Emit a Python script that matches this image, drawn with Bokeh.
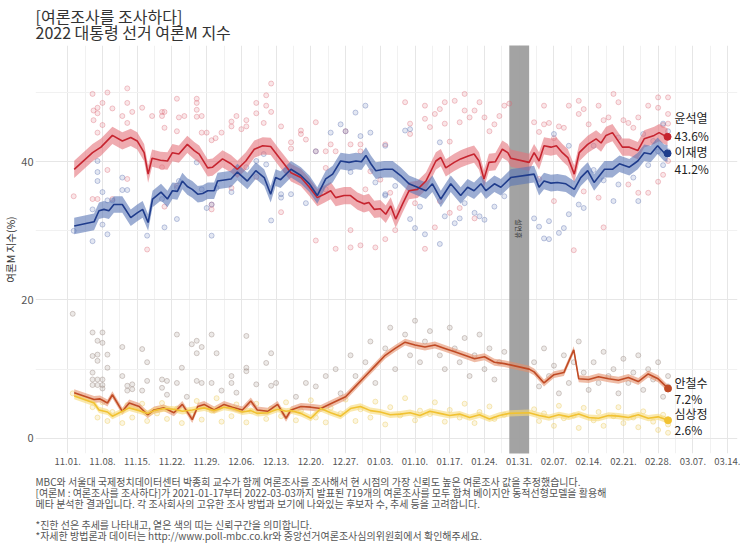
from bokeh.plotting import figure
from bokeh.models import FixedTicker, Title
from bokeh.core.properties import value
from bokeh.embed import file_html
from bokeh.resources import INLINE

FONT = "Noto Sans CJK KR"

# ---------------- data (x = days since 2021-11-01) ----------------
tick_labels = ["11.01.", "11.08.", "11.15.", "11.22.", "11.29.", "12.06.", "12.13.",
               "12.20.", "12.27.", "01.03.", "01.10.", "01.17.", "01.24.", "01.31.",
               "02.07.", "02.14.", "02.21.", "02.28.", "03.07.", "03.14."]

holiday_start, holiday_end = 89, 93  # 설 연휴 (01.29 - 02.02)
holiday_label = "설연휴"

yoon_day = [1.3, 5, 6.7, 9, 11, 12.7, 14, 15.4, 16.2, 17, 18.7, 20.1, 21.1, 22.4, 24.1, 25.5, 26.5,
            28.2, 29.2, 31.2, 32.9, 34.2, 35.9, 37.6, 39.3, 40.9, 42.6, 45, 47, 48.7, 50.3, 51.7, 53,
            54, 55.7, 57, 58.4, 59.7, 60.7, 61.8, 63, 64.1, 65.1, 66.1, 67.5, 68.8, 70.5, 72.2, 74.2,
            75.2, 76.2, 77.9, 79.2, 80.6, 81.9, 82.9, 83.9, 84.9, 86.2, 87.6, 88.7, 89.3, 93, 94, 95,
            96, 97.4, 98.5, 99.7, 100.8, 102.1, 103.1, 104.8, 106.5, 107.5, 108.5, 109.8, 111.8,
            113.2, 114.9, 116.2, 118.2, 119.2, 120.2, 120.9]
yoon_val = [38.9, 41.3, 42.1, 43.8, 43.0, 43.5, 43.0, 41.3, 38.2, 40.5, 40.2, 40.1, 41.3, 41.1, 42.5,
            41.6, 41.1, 39.1, 39.2, 40.4, 39.7, 38.9, 40.1, 41.8, 42.3, 42.2, 40.6, 38.4, 37.7, 36.3,
            34.8, 35.3, 35.8, 34.8, 35.1, 35.1, 34.3, 33.9, 34.1, 33.1, 33.2, 32.4, 33.6, 31.7, 33.9,
            35.8, 36.0, 37.2, 40.1, 40.6, 39.1, 39.9, 40.4, 40.8, 41.1, 40.1, 37.5, 39.9, 40.0, 41.8,
            41.3, 40.5, 39.9, 41.3, 40.1, 42.3, 42.1, 42.3, 41.3, 40.6, 38.2, 41.3, 42.5, 43.3, 42.7,
            43.8, 44.2, 42.1, 42.1, 41.6, 43.3, 43.8, 44.2, 43.8, 43.6]

lee_day = [1.3, 5.3, 6.3, 7.3, 8.3, 9.3, 11, 12.7, 14, 15.1, 16.2, 17.1, 18.8, 20.1, 21.1, 22.1, 23.1,
           24.1, 25.1, 26.2, 27.2, 28.2, 29.5, 30.2, 32.9, 34.2, 36.2, 37.9, 39.6, 40.9, 41.9, 42.9,
           45, 47, 48.7, 50.3, 52, 53.4, 55, 56.7, 58.1, 59.2, 60.1, 61.1, 62.1, 63.8, 65.5, 67.1,
           68.8, 70.5, 72.2, 73.5, 75.2, 77.2, 79.2, 80.6, 81.9, 83.3, 84.3, 86, 87.3, 89.3, 94, 95,
           96, 97.4, 98.7, 100.4, 102.1, 103.4, 104.8, 106.1, 108.2, 109.8, 111.2, 113.2, 114.9,
           116.2, 117.5, 118.9, 120.2, 120.9]
lee_val = [30.7, 31.3, 32.9, 33.1, 32.9, 33.8, 33.8, 31.9, 32.6, 33.1, 31.2, 34.6, 35.6, 34.6, 35.8,
           35.7, 37.2, 36.4, 36.0, 35.3, 35.4, 35.8, 35.8, 37.2, 37.5, 38.5, 37.2, 38.7, 37.7, 35.3,
           37.7, 37.4, 38.9, 38.0, 36.8, 35.1, 37.5, 38.2, 40.1, 39.9, 40.1, 40.0, 40.9, 39.7, 38.7,
           38.9, 38.9, 38.0, 36.8, 36.3, 35.8, 36.8, 34.6, 36.8, 35.1, 36.3, 35.8, 36.8, 35.8, 36.8,
           36.3, 37.7, 38.2, 36.3, 37.2, 36.9, 37.0, 36.8, 36.0, 37.7, 38.7, 37.0, 38.9, 38.9, 39.7,
           39.2, 40.1, 41.3, 41.1, 42.3, 41.3, 41.2]

ahn_day = [1.3, 5.3, 6.5, 8, 9, 11, 12.4, 14.4, 16.1, 17.4, 19.4, 21.4, 23.1, 25.1, 26.2, 27.5, 29.5,
           31.5, 33.2, 35.2, 36.9, 38.2, 40.3, 42.3, 44, 45, 47, 49, 51, 53, 56, 58, 60, 62, 64, 66,
           68, 70, 72, 74, 76, 78, 80, 82, 84, 86, 88, 93, 94, 96, 98, 100, 102, 103, 105, 107, 109,
           111, 113, 115, 117, 119, 120, 121]
ahn_val = [6.6, 5.6, 5.7, 5.1, 6.3, 3.9, 5.1, 4.6, 3.4, 4.1, 4.4, 3.7, 4.9, 2.7, 4.6, 4.9, 4.1, 4.9,
           4.5, 4.1, 5.4, 4.1, 3.9, 4.9, 2.9, 4.1, 4.6, 4.5, 4.3, 5.0, 6.0, 7.5, 9.0, 10.5, 12.0, 13.0,
           13.9, 13.5, 13.2, 13.5, 13.0, 12.5, 12.0, 11.5, 11.8, 11.0, 10.8, 10.0, 9.6, 8.0, 9.2, 9.5,
           12.8, 8.6, 8.5, 8.9, 8.6, 8.4, 8.8, 8.2, 9.3, 8.6, 7.9, 7.2]

sim_day = [1.3, 5.3, 6.3, 8, 9, 11, 12.4, 14.4, 16.1, 17.4, 19.4, 21.4, 23.1, 25.1, 27.5, 29.5, 31.5,
           33.2, 35.2, 36.9, 38.2, 40.3, 42.3, 44, 45, 47, 49, 51, 53, 55, 57, 59, 61, 63, 65, 67, 69,
           71, 73, 75, 77, 79, 81, 83, 85, 87, 89, 93, 95, 97, 99, 101, 103, 105, 107, 109, 111, 113,
           115, 117, 119, 121]
sim_val = [6.1, 5.1, 4.1, 3.8, 3.2, 3.9, 4.4, 4.0, 3.6, 4.0, 4.3, 4.2, 3.9, 4.1, 4.4, 4.0, 4.5, 4.3,
           3.8, 4.0, 3.6, 3.7, 4.2, 3.9, 4.0, 3.6, 2.9, 4.3, 3.7, 3.2, 4.3, 4.6, 4.0, 3.8, 3.4, 3.5,
           3.7, 3.3, 3.9, 3.6, 3.3, 3.5, 3.0, 3.4, 2.8, 3.3, 3.6, 3.7, 3.3, 3.0, 3.4, 3.1, 3.5, 3.0,
           2.9, 3.3, 3.2, 3.0, 3.4, 2.9, 3.1, 2.6]

# credible-interval half widths (percentage points)
yoon_ci, lee_ci, ahn_ci, sim_ci = 1.25, 1.2, 0.5, 0.45

# individual polls
yoon_poll_day = [1.2, 5, 5.2, 5.2, 6, 6, 6, 7, 7, 8, 9, 11, 12, 12, 12, 13, 15, 17, 19, 19, 19.5, 19.5,
                 22, 22, 22.4, 23.5, 26, 26, 26, 26, 27, 27, 28, 29, 29.8, 31, 33, 33, 34, 35, 36, 36,
                 38, 38, 39.5, 40, 40, 41, 41, 43, 5, 6, 8, 9, 16, 19, 19.5, 29, 29, 12, 22, 33, 38,
                 45, 45, 47, 47, 48, 50, 50, 52, 52, 53, 54, 56, 57, 59, 59, 61, 63, 64, 68, 69, 69,
                 72, 72, 73, 74, 75, 76, 76, 77, 78, 79, 80, 80, 81, 82, 83, 84, 85, 86, 87, 88,
                 43, 57, 66, 75, 77, 79, 82, 50, 54, 57, 59, 62, 64, 72, 74, 60, 65, 70,
                 89, 94, 95, 96, 96, 97, 98, 99, 100, 101, 103, 103, 104, 105, 107, 108, 109, 110,
                 111, 112, 113, 114, 115, 117, 119, 119, 120, 121, 121, 121,
                 95, 98, 104, 107, 113, 115, 117, 119, 120, 121, 102, 108]
yoon_poll_val = [35, 49.8, 47.4, 46, 47.8, 47, 44.2, 48.5, 45.3, 50, 47.7, 46.6, 50.6, 48.5, 45.6, 47.2,
                 47.8, 46.6, 47.2, 46.6, 47.2, 44.9, 49.1, 44.4, 46.4, 46.6, 49.1, 48.5, 47.5, 46.5,
                 46.6, 44.2, 44.2, 43.1, 43.4, 44.2, 45.8, 45.1, 46.6, 44.7, 46, 45.1, 48.5, 47, 45.6,
                 49.6, 48.1, 51.3, 47.2, 45.1, 34.6, 34.6, 38.8, 34.6, 27.3, 39.2, 33.5, 33.1, 33.8,
                 37.5, 36.5, 36.2, 37.8,
                 42.8, 41.9, 44.5, 44, 43.2, 45.7, 41.5, 41.5, 39.1, 42.5, 41.5, 44.4, 42.5, 42.5, 41.5,
                 38.6, 37.4, 42.5, 48.6, 45.5, 44, 48.1, 46.2, 45, 46.9, 47.6, 48.6, 45.5, 42.9, 48.8,
                 45.7, 49.8, 47.4, 46.4, 47.4, 48.6, 46.4, 44.4, 45.4, 46.6, 48.1,
                 32.7, 30.1, 30.1, 34.3, 32.6, 33.3, 31.8, 28.6, 27.4, 27.6, 27.9, 27.6, 28.8, 27.4,
                 30.5, 36, 35.5, 34,
                 48.4, 45.7, 44.3, 48.1, 45.4, 45.6, 43.4, 45.1, 44.9, 48.1, 48.8, 46.9, 47.6, 45.4,
                 48.1, 46, 46.4, 49.8, 48.6, 46, 45.6, 44.9, 46.4, 48.1, 49.3, 47.8, 45.3, 49.3, 46.9,
                 45.5, 37.5, 34.3, 35.7, 34.8, 36.7, 35.5, 35.5, 37.1, 38.1, 40.1, 27.2, 30.5]

lee_poll_day = [1.2, 5, 5, 6, 6, 6, 7, 7, 8, 8, 9, 11, 11, 12, 16, 19, 19.5, 22, 22, 22.4, 26, 27, 28,
                29, 29, 30, 33, 36, 38, 39.5, 40, 41, 43, 44, 43, 45,
                50, 53, 55, 56, 58, 60, 59, 61, 64, 68, 69, 75, 76, 75, 79, 78, 82, 83, 84, 69, 70,
                72, 64, 64, 48, 52, 57, 62, 66, 71, 80, 86, 88,
                94, 95, 96, 97, 97, 99, 100, 101, 103, 104, 106, 108, 110, 111, 114, 115, 117, 119,
                120, 121, 121, 98, 101, 106, 111, 116, 118, 120]
lee_poll_val = [30, 28.5, 33.1, 40.1, 38.5, 37.2, 35.6, 30.9, 34.4, 29.5, 34.4, 37.7, 35.9, 35.9, 29.3,
                34.6, 30.5, 36.2, 31.7, 37.2, 39.9, 36, 33.3, 33.8, 29.3, 36.2, 35.6, 39.2, 40.1, 41.1,
                39.6, 31.5, 35.3, 38.7, 34.8, 35.3,
                41.5, 44.2, 45.4, 44.4, 47.1, 48.1, 43.7, 44.2, 42.3, 44.5, 44.7, 42.8, 32.1, 28.1,
                31.8, 31.1, 32.6, 32.1, 31.6, 31.7, 30.4, 29.5, 35.1, 35.3, 34, 36, 38.5, 37, 36.5,
                33.5, 34, 33.5, 35,
                31.8, 30.6, 28.9, 28.8, 31.4, 29.7, 30.4, 32.4, 33.8, 33.3, 38.8, 37.3, 34.3, 36.7,
                37.7, 34.3, 39.5, 41.5, 39.5, 41.5, 44.4, 44, 42.3, 42.3, 43.5, 44, 43, 45.5]

ahn_poll_day = [1, 5, 7, 6, 7, 5, 6, 6, 8, 8, 5, 5, 5, 6, 6, 7, 7, 7, 11, 11, 12, 12, 13, 13, 15, 15,
                16, 16, 19, 19, 20, 20, 22, 22, 23, 24, 25, 26, 26, 26, 27, 27, 29, 29, 30, 31, 33,
                33, 34, 36, 36, 36, 38, 40, 41, 41, 42,
                46, 48, 50, 52, 54, 55, 57, 58, 60, 61, 62, 64, 65, 66, 68, 69, 70, 71, 72, 73, 75,
                76, 77, 78, 79, 80, 81, 82, 83, 84, 85, 86, 87, 88, 94, 95, 96, 97, 98, 99, 100, 101,
                102, 103, 104, 105, 106, 107, 108, 109, 110, 111, 112, 113, 114, 115, 116, 117, 118,
                119, 120, 121, 121]
ahn_poll_val = [18, 15.3, 15.3, 14.1, 13.8, 11.9, 12.1, 11.2, 12.1, 10.2, 9.5, 8.5, 7.7, 8.5, 7.7, 8.5,
                7.7, 7.2, 13.2, 9, 7.6, 6.9, 7.8, 7.1, 12.9, 6.9, 11, 8.3, 8.5, 7.3, 8.3, 6.3, 15, 8,
                10.2, 6, 13.6, 14.1, 12.3, 8.3, 13.2, 8, 15, 8, 12.3, 6.9, 9, 8, 6.6, 14.8, 10.2, 9.7,
                7.8, 10.9, 12.3, 7.6, 8,
                6, 8, 7.5, 9, 10, 6.5, 12, 9, 11, 14, 8, 13, 16, 10, 15, 12, 17, 11, 14, 15.5, 12,
                10, 16, 13, 11, 14.5, 9, 12, 15, 10, 13, 8.5, 11, 12.5, 11, 7.5, 13, 9, 10.5, 6.5, 12,
                8, 11, 14, 9.5, 7, 11, 8, 12.5, 9, 10, 6.5, 11.5, 8, 9.5, 12, 7, 10, 8.5, 11, 6, 9,
                7.5]

sim_poll_day = [1, 5, 6, 7, 8, 9, 11, 12, 13, 15, 16, 18, 19, 20, 22, 23, 25, 26, 27, 29, 30, 31, 33,
                34, 36, 37, 38, 40, 41, 43, 44, 46, 47, 49, 50, 52, 53, 55, 56, 58, 59, 61, 62, 64,
                65, 67, 68, 70, 71, 73, 74, 76, 77, 79, 80, 82, 83, 85, 86, 88, 94, 95, 96, 98, 99,
                100, 102, 103, 104, 106, 107, 108, 110, 111, 112, 114, 115, 116, 118, 119, 120, 121,
                121]
sim_poll_val = [6.5, 4.5, 3, 5.2, 2.5, 3.8, 2.2, 4.8, 3, 5, 2.5, 3.6, 5.1, 2.8, 4.3, 2.2, 3.5, 5.4,
                2.7, 4, 5.8, 2.4, 3.2, 4.9, 2.3, 3.9, 5, 2.8, 4.3, 3.2, 5.2, 2.6, 4, 5.5, 3, 2.3, 4.4,
                3.6, 5.6, 2.5, 4.2, 3, 5.3, 2, 4.5, 3.3, 5.8, 2.6, 4, 3.5, 5.2, 2.4, 4.1, 3, 5, 2.2,
                3.8, 4.6, 2.8, 3.4, 4.2, 2.5, 3.6, 1.8, 4.7, 2.9, 3.3, 1.5, 4.4, 2.6, 3.8, 1.8, 3.2,
                4.5, 2.2, 3, 1.6, 3.9, 2.4, 1.2, 3.4, 2, 0.8]

names = ["윤석열", "이재명", "안철수", "심상정"]

title_text = "[여론조사를 조사하다]\n2022 대통령 선거 여론M 지수"
caption_text = ("MBC와 서울대 국제정치데이터센터 박종희 교수가 함께 여론조사를 조사해서 현 시점의 가장 신뢰도 높은 여론조사 값을 추정했습니다.\n"
                "[여론M : 여론조사를 조사하다]가 2021-01-17부터 2022-03-03까지 발표된 719개의 여론조사를 모두 합쳐 베이지안 동적선형모델을 활용해\n"
                "메타 분석한 결과입니다. 각 조사회사의 고유한 조사 방법과 보기에 나와있는 후보자 수, 추세 등을 고려합니다.\n"
                " \n"
                "*진한 선은 추세를 나타내고, 옅은 색의 띠는 신뢰구간을 의미합니다.\n"
                "*자세한 방법론과 데이터는 http://www.poll-mbc.co.kr와 중앙선거여론조사심의위원회에서 확인해주세요.")

# ---------------- figure ----------------
YMIN, YMAX = -2.2, 56.8
p = figure(width=740, height=551, x_range=(-6.5, 135), y_range=(YMIN, YMAX),
           output_backend="svg", toolbar_location=None,
           min_border_left=0, min_border_right=3, min_border_top=0, min_border_bottom=0)
p.outline_line_color = None
p.background_fill_color = "white"

p.title.text = title_text
p.title.text_font = FONT
p.title.text_font_size = "16px"
p.title.text_font_style = "normal"
p.title.text_color = "#333333"
p.title.text_line_height = 0.68
p.title.align = "left"
p.title.standoff = 3

cap = Title(text=caption_text, align="left", vertical_align="top", text_font=FONT,
            text_font_size="10px", text_font_style="normal", text_color="#555555",
            text_line_height=0.72, standoff=13)
p.add_layout(cap, "below")

tick_days = [7 * i for i in range(len(tick_labels))]
p.xaxis.ticker = FixedTicker(ticks=tick_days, minor_ticks=[d + 3.5 for d in tick_days])
p.xaxis.major_label_overrides = {d: lab for d, lab in zip(tick_days, tick_labels)}
p.yaxis.ticker = FixedTicker(ticks=[0, 20, 40], minor_ticks=[10, 30, 50])
for ax in (p.xaxis, p.yaxis):
    ax.axis_line_color = None
    ax.major_tick_line_color = None
    ax.minor_tick_line_color = None
    ax.major_tick_out = 0
    ax.major_tick_in = 0
    ax.minor_tick_out = 0
    ax.minor_tick_in = 0
    ax.major_label_text_font = FONT
    ax.major_label_text_color = "#555555"
p.xaxis.major_label_text_font_size = "9.5px"
p.xaxis.major_label_standoff = 4
p.yaxis.major_label_text_font_size = "11px"
p.yaxis.major_label_standoff = 2
p.yaxis.axis_label = "여론M 지수(%)"
p.yaxis.axis_label_text_font = FONT
p.yaxis.axis_label_text_font_size = "10.5px"
p.yaxis.axis_label_text_font_style = "normal"
p.yaxis.axis_label_text_color = "#333333"
p.yaxis.axis_label_standoff = 0

for g in (p.xgrid, p.ygrid):
    g.grid_line_color = "#e6e6e6"
    g.grid_line_width = 1
    g.minor_grid_line_color = "#f1f1f1"
    g.minor_grid_line_width = 1

# holiday band
p.quad(left=[holiday_start], right=[holiday_end], bottom=[YMIN - 5], top=[YMAX + 5],
       fill_color="#9e9e9e", fill_alpha=0.95, line_color=None)
p.text(x=[(holiday_start + holiday_end) / 2], y=[30.3], text=[holiday_label], angle=-1.5708,
       text_font=value(FONT), text_font_size="7px", text_color="#333333",
       text_align="center", text_baseline="middle")

# polls
polls = [
    (yoon_poll_day, yoon_poll_val, "#dd6c78", 0.28),
    (lee_poll_day, lee_poll_val, "#5b72b0", 0.28),
    (ahn_poll_day, ahn_poll_val, "#9c8a84", 0.32),
    (sim_poll_day, sim_poll_val, "#eccb5c", 0.32),
]
for d, v, c, a in polls:
    p.scatter(d, v, size=5, fill_color=c, fill_alpha=a * 0.6, line_color=c, line_alpha=a + 0.1,
              line_width=1)

# trends with bands
series = [
    (yoon_day, yoon_val, yoon_ci, "#c6242f", "#e5737c"),
    (lee_day, lee_val, lee_ci, "#1f3c8c", "#5a76b5"),
    (ahn_day, ahn_val, ahn_ci, "#c04b25", "#e48f6a"),
    (sim_day, sim_val, sim_ci, "#f1c232", "#f6d874"),
]
for d, v, ci, lc, bc in series:
    p.varea(x=d, y1=[y - ci for y in v], y2=[y + ci for y in v], fill_color=bc, fill_alpha=0.6)
for d, v, ci, lc, bc in series:
    p.line(d, v, line_color=lc, line_width=1.6)
    p.scatter([d[-1]], [v[-1]], size=7, fill_color=lc, line_color=lc)

# end labels
label_x = 122.3
offsets = [(2.8, 0.2), (0.2, -2.2), (0.9, -1.4), (1.0, -1.4)]
for (d, v, ci, lc, bc), name, (on, ov) in zip(series, names, offsets):
    last = v[-1]
    p.text(x=[label_x, label_x], y=[last + on, last + ov], text=[name, f"{last}%"],
           text_font=value(FONT), text_font_size="12px", text_color="#222222",
           text_align="left", text_baseline="middle")

open("out.html", "w").write(file_html(p, INLINE))
